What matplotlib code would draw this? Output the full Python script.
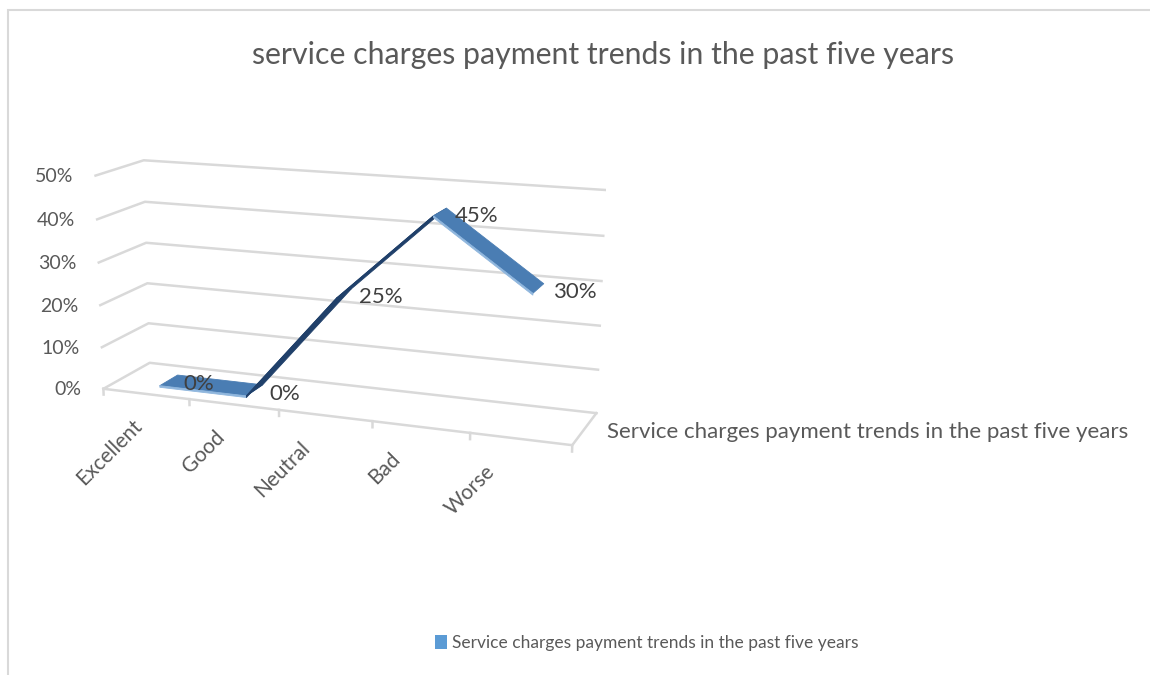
import numpy as np
import matplotlib
matplotlib.use('Agg')
import matplotlib.pyplot as plt
from matplotlib.patches import Patch, Rectangle
from mpl_toolkits.mplot3d import proj3d
from mpl_toolkits.mplot3d.art3d import Poly3DCollection

plt.rcParams['font.family'] = ['Lato', 'DejaVu Sans']

categories = ['Excellent', 'Good', 'Neutral', 'Bad', 'Worse']
shares = [0.00, 0.00, 0.25, 0.45, 0.30]
value_ticks = [0.0, 0.1, 0.2, 0.3, 0.4, 0.5]
series_name = 'Service charges payment trends in the past five years'
chart_title = 'service charges payment trends in the past five years'

W, H = 1150, 675
GRID = '#d9d9d9'
TEXT = '#595959'

fig = plt.figure(figsize=(W / 100, H / 100), dpi=100)
ax = fig.add_axes([0.0586, 0.1555, 0.4684, 0.798], projection='3d',
                  computed_zorder=False)
ax.set_xlim(-0.5, len(categories) - 0.5)
ax.set_ylim(0, 1)
ax.set_zlim(0, value_ticks[-1])
ax.set_axis_off()
ax.view_init(elev=13.84, azim=-69.0)
ax.set_proj_type('persp', focal_length=0.56)
ax.set_box_aspect((5, 1.04, 2.26))

xlo, xhi = ax.get_xlim()
M = ax.get_proj()


def screen(x, y, z):
    # 3D data point -> 2D data coords of the 3D axes
    u, v, _ = proj3d.proj_transform(np.atleast_1d(x), np.atleast_1d(y),
                                    np.atleast_1d(z), M)
    return float(u[0]), float(v[0])


# back wall, side wall and floor
grid_kw = dict(color=GRID, lw=1.8, zorder=1)
for v in value_ticks:
    ax.plot([xlo, xlo, xhi], [0, 1, 1], [v, v, v], **grid_kw)
ax.plot([xlo, xhi, xhi], [0, 0, 1], [0, 0, 0], **grid_kw)
for xt in np.arange(len(categories) + 1) - 0.5:
    ax.plot([xt, xt], [0, 0], [0, -0.014], **grid_kw)

for v in value_ticks:
    ax.annotate(f'{v:.0%}', xy=screen(xlo, 0, v), xytext=(-22, -1),
                textcoords='offset pixels', ha='right', va='center',
                fontsize=14, color=TEXT, annotation_clip=False)

# the 3D line ribbon
xs = np.arange(len(categories))
y0, y1, t = 0.30, 0.70, 0.004
faces, colors = [], []
for i in range(len(xs) - 1):
    xa, xb = xs[i], xs[i + 1]
    va_, vb = shares[i], shares[i + 1]
    rising = vb > va_
    faces.append([(xa, y0, va_), (xb, y0, vb), (xb, y1, vb), (xa, y1, va_)])
    colors.append('#20406a' if rising else '#4a7db3')
    faces.append([(xa, y0, va_), (xb, y0, vb), (xb, y0, vb - t), (xa, y0, va_ - t)])
    colors.append('#20406a' if rising else '#8fb6dd')
ribbon = Poly3DCollection(faces, facecolors=colors, edgecolors=colors,
                          linewidths=0.6, zorder=3)
ax.add_collection3d(ribbon)

for x, v in zip(xs, shares):
    ax.annotate(f'{v:.0%}', xy=screen(x, 0.5, v), xytext=(15, -4),
                textcoords='offset pixels', ha='left', va='center',
                fontsize=16, color='#404040', zorder=5, annotation_clip=False)

# category labels sit a little tighter than the perspective ticks
for i, (x, name) in enumerate(zip(xs, categories)):
    ax.annotate(name, xy=screen(x, 0, 0), xytext=(-5.5 * i, -22),
                textcoords='offset pixels', ha='right', va='top', rotation=45,
                fontsize=15, color=TEXT, annotation_clip=False)

ax.annotate(series_name, xy=screen(xhi, 0.5, 0), xytext=(22, -3),
            textcoords='offset pixels', ha='left', va='center',
            fontsize=16, color=TEXT, annotation_clip=False)

fig.text(603 / W, 1 - 55 / H, chart_title, ha='center', va='center',
         fontsize=21.8, color=TEXT)

fig.legend(handles=[Patch(facecolor='#5b9bd5', label=series_name)],
           loc='center', bbox_to_anchor=(0.5626, 1 - 643 / H), frameon=False,
           handlelength=0.7, handleheight=0.8, handletextpad=0.3,
           fontsize=12.5, labelcolor=TEXT)

# chart area border
fig.add_artist(Rectangle((7.5 / W, -0.5), 2, (H - 9.5) / H + 0.5,
                         transform=fig.transFigure, fill=False, ec=GRID, lw=1.5))

fig.savefig('out.png', dpi=100)
